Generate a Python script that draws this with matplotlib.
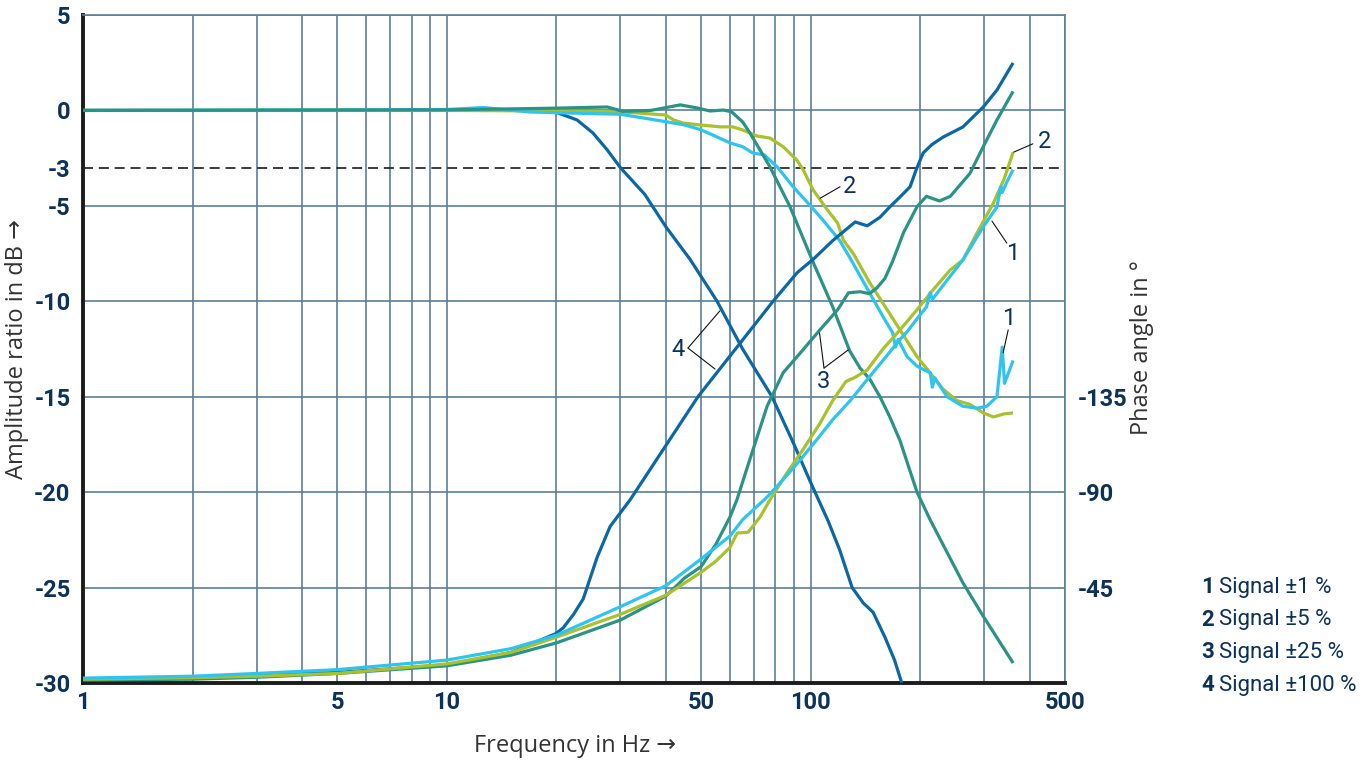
import matplotlib
matplotlib.use("Agg")
import matplotlib.pyplot as plt
from matplotlib.ticker import NullFormatter

# ---- measured frequency response, one set per signal level ----
# amplitude ratio in dB
f_amp_1 = [1, 5, 10, 12.6, 16.9, 20, 30, 40, 45, 49.7, 55.3, 60, 65, 69.3, 74.5, 80.9, 89.5,
           97.7, 108, 120, 128, 145.6, 158, 168, 171, 174, 184, 196, 213, 216, 219, 237, 262,
           287, 305, 325, 331, 336, 341, 360]
amp_1 = [0, 0.02, 0.05, 0.15, -0.08, -0.12, -0.2, -0.59, -0.76, -1.0, -1.39, -1.7, -1.9, -2.23,
         -2.33, -2.96, -4.0, -4.8, -5.74, -6.8, -7.7, -9.6, -10.8, -11.65, -12.4, -12.0, -12.9,
         -13.4, -13.75, -14.5, -14.0, -15.0, -15.5, -15.6, -15.5, -15.0, -13.6, -12.4, -14.3, -13.1]

f_amp_2 = [1, 10, 20, 30, 40, 42, 44.6, 49.7, 56.3, 61, 65, 71.2, 77.3, 84, 91.6, 95.3, 101.6,
           111, 118.6, 123, 131, 145, 158, 176, 196, 213, 231, 252, 274, 298, 318, 340, 360]
amp_2 = [0, 0, -0.03, -0.07, -0.24, -0.5, -0.66, -0.76, -0.86, -0.86, -1.02, -1.34, -1.45, -1.9,
         -2.6, -3.1, -4.17, -5.2, -5.9, -6.8, -7.5, -9.0, -10.1, -11.5, -12.9, -13.75, -14.6,
         -15.2, -15.4, -15.85, -16.06, -15.9, -15.85]

f_amp_3 = [1, 10, 15, 20, 27.6, 30.5, 36.3, 40.3, 43.8, 48.7, 52.9, 57.5, 60.6, 65, 68.1, 77.3,
           87.8, 100.9, 115, 128, 136.7, 145.6, 155, 165, 176, 196, 213, 262, 298, 360]
amp_3 = [0, 0.03, 0.08, 0.12, 0.18, -0.05, 0.0, 0.16, 0.29, 0.13, -0.03, 0.02, -0.07, -0.6, -1.18,
         -2.96, -5.06, -7.83, -10.3, -12.6, -13.5, -14.1, -15.0, -16.06, -17.3, -20.0, -21.45,
         -24.75, -26.5, -28.95]

f_amp_4 = [1, 5, 10, 15, 18, 20, 22.8, 25.2, 27.6, 30, 35, 40, 46.6, 55.3, 65, 78.3, 90, 100,
           111.6, 120, 130, 139.4, 148.5, 160, 170, 178]
amp_4 = [0, 0, 0.02, 0.05, 0.03, -0.1, -0.5, -1.18, -2.07, -3.0, -4.4, -6.1, -7.8, -10.0, -12.5,
         -15.0, -17.5, -19.5, -21.5, -23.0, -25.0, -25.8, -26.3, -27.6, -28.8, -30.0]

# phase angle in degrees
f_ph_1 = [1, 2, 3, 5, 10, 15, 20, 30, 40, 50, 60, 65, 76, 84, 93.7, 104, 115, 128.5, 143, 158,
          176, 184, 200, 208, 213, 216, 237, 262, 298, 325, 333, 336, 345, 360]
ph_1 = [-2.3, -3.2, -4.5, -6.3, -10.8, -16.2, -22.5, -36, -45.9, -58.5, -69.3, -77, -87.8, -95.9,
        -105.3, -114.8, -124.2, -133.2, -143.1, -152.1, -162, -165.6, -173.7, -177.3, -184,
        -180.9, -189.9, -199.5, -215.1, -224.5, -234, -231.3, -235.8, -242.1]

f_ph_2 = [1, 2, 3, 5, 10, 15, 20, 30, 40, 50, 55, 60, 62.8, 67.3, 72.6, 77.3, 86, 95, 106, 115,
          125, 132, 143, 158, 176, 196, 217, 242, 262, 287, 318, 340, 360]
ph_2 = [-1.8, -2.5, -3.2, -4.5, -9, -14.4, -21.6, -32.4, -41.4, -52.2, -57.6, -63.9, -70.7, -71.1,
        -78.3, -86.4, -99, -109.8, -122.4, -133.2, -142.2, -144, -147.6, -157.5, -166.5, -176,
        -185.4, -194.8, -199.5, -212.4, -226.4, -237.6, -250.2]

f_ph_3 = [1, 2, 3, 5, 10, 15, 20, 30, 40, 45, 50, 55, 60, 62.7, 68, 75.9, 84, 93.7, 106, 118.6,
          127, 136.7, 145, 152, 160, 168, 180, 196, 208, 226, 242, 274, 298, 325, 360]
ph_3 = [-1.4, -1.8, -2.7, -4.5, -8.1, -13.1, -18.9, -29.7, -41, -49.5, -54.9, -65.7, -78.3, -86.4,
        -105.3, -130.5, -146.3, -155.7, -166.5, -176, -184, -184.5, -183.6, -186.3, -190.8,
        -198.9, -212.4, -224.6, -229.5, -227.3, -229.5, -240.3, -252.9, -265.5, -279]

f_ph_4 = [1, 2, 3, 5, 10, 15, 20, 20.9, 22.3, 23.7, 25.9, 28.1, 31.9, 49, 78.8, 91.8, 101.6,
          115.3, 132.5, 143, 155, 165, 176, 187.6, 195, 203.7, 215, 231, 262, 298, 325, 360]
ph_4 = [-1.8, -2.7, -3.6, -5, -8.5, -14.4, -23.4, -26.1, -32.4, -39.6, -59.4, -73.8, -86.4, -135,
        -180, -193.5, -199.8, -208.8, -217.4, -215.6, -219.6, -224.5, -229.2, -234, -242.1,
        -249.9, -253.8, -257.4, -262.2, -271.6, -279.6, -292.4]

signal_labels = ["Signal \u00b11 %", "Signal \u00b15 %", "Signal \u00b125 %", "Signal \u00b1100 %"]
colors = ["#2fc3f0", "#a8c12c", "#2a9386", "#0b68a4"]

grid_color = "#5c8099"
navy = "#0d3259"
tick_font = ["Roboto", "DejaVu Sans"]
label_font = ["Open Sans", "DejaVu Sans"]

W, H = 1363, 761
fig = plt.figure(figsize=(W / 100, H / 100), dpi=100)
ax = fig.add_axes([83 / W, 1 - 683 / H, 982 / W, 668 / H])
ax2 = ax.twinx()

ax.set_xscale("log")
ax.set_xlim(1, 500)
ax.set_ylim(-30, 5)
ax2.set_ylim(0, -315)

# amplitude curves
amp_sets = [(f_amp_4, amp_4, 3), (f_amp_2, amp_2, 1), (f_amp_1, amp_1, 0), (f_amp_3, amp_3, 2)]
for f, v, i in amp_sets:
    ax.plot(f, v, color=colors[i], lw=2.3, solid_joinstyle="round", solid_capstyle="butt", zorder=3)

# phase curves
ph_sets = [(f_ph_4, ph_4, 3), (f_ph_3, ph_3, 2), (f_ph_2, ph_2, 1), (f_ph_1, ph_1, 0)]
for f, v, i in ph_sets:
    ax2.plot(f, v, color=colors[i], lw=2.3, solid_joinstyle="round", solid_capstyle="butt", zorder=3)

# -3 dB line
ax.axhline(-3, color="#1a1a1a", lw=1.2, ls=(0, (6, 3.5)), zorder=2)

# grid
ax.set_xticks([1, 5, 10, 50, 100, 500])
ax.set_xticklabels(["1", "5", "10", "50", "100", "500"])
ax.set_xticks([2, 3, 4, 6, 7, 8, 9, 20, 30, 40, 60, 70, 80, 90, 200, 300, 400], minor=True)
ax.xaxis.set_minor_formatter(NullFormatter())
ax.set_yticks([5, 0, -5, -10, -15, -20, -25, -30])
ax.set_yticklabels(["5", "0", "-5", "-10", "-15", "-20", "-25", "-30"])
ax.set_yticks([-3], minor=True)
ax.set_yticklabels(["-3"], minor=True)
ax.grid(True, which="both", axis="x", color=grid_color, lw=1.2, zorder=1)
ax.grid(True, which="major", axis="y", color=grid_color, lw=1.2, zorder=1)
ax.set_axisbelow(True)

ax2.set_yticks([-135, -90, -45])
ax2.set_yticklabels(["-135", "-90", "-45"])

for a in (ax, ax2):
    a.tick_params(which="both", length=0, labelcolor=navy)
    for lab in a.get_xticklabels() + a.get_yticklabels() + a.get_yticklabels(minor=True):
        lab.set_fontfamily(tick_font)
        lab.set_fontweight("bold")
        lab.set_fontsize(17)
ax.tick_params(axis="x", pad=6)
ax.tick_params(axis="y", which="both", pad=9)
ax2.tick_params(axis="y", pad=9)

for s in ("left", "bottom"):
    ax.spines[s].set_color("#1c1c1c")
    ax.spines[s].set_linewidth(2.8)
for s in ("top", "right"):
    ax.spines[s].set_color(grid_color)
    ax.spines[s].set_linewidth(1.2)
for s in ax2.spines.values():
    s.set_visible(False)

# axis titles
title_kw = dict(fontsize=17, color="#333333", family=label_font, ha="center", va="center")
fig.text(575 / W, 1 - 746 / H, "Frequency in Hz \u2192", **title_kw)
fig.text(17 / W, 1 - 349 / H, "Amplitude ratio in dB \u2192", rotation=90, **title_kw)
fig.text(1142 / W, 1 - 348 / H, "Phase angle in \u00b0", rotation=90, **title_kw)

# curve numbers with leader lines
lead = dict(arrowstyle="-", color="#111111", lw=0.8, shrinkA=0, shrinkB=0)
txt = dict(fontsize=17, color=navy, family=tick_font, ha="center", va="center", zorder=5)

ax.text(43.2, -12.55, "4", **txt)
ax.annotate("", xy=(56.3, -10.5), xytext=(46.0, -12.45), arrowprops=lead)
ax.annotate("", xy=(54.6, -13.55), xytext=(46.0, -12.45), arrowprops=lead)

ax.text(108.2, -14.2, "3", **txt)
ax.annotate("", xy=(105.5, -11.5), xytext=(108.8, -13.5), arrowprops=lead)
ax.annotate("", xy=(126.8, -12.55), xytext=(108.8, -13.5), arrowprops=lead)

ax.text(127.5, -4.0, "2", **txt)
ax.annotate("", xy=(106.2, -4.6), xytext=(120.4, -4.0), arrowprops=lead)

ax.text(438, -1.65, "2", **txt)
ax.annotate("", xy=(360, -2.2), xytext=(408, -1.75), arrowprops=lead)

ax.text(358, -7.5, "1", **txt)
ax.annotate("", xy=(315, -5.8), xytext=(346, -6.95), arrowprops=lead)

ax.text(349, -10.9, "1", **txt)
ax.annotate("", xy=(338, -12.7), xytext=(349, -11.5), arrowprops=lead)

# key on the right
for k, name in enumerate(signal_labels):
    y = 1 - (587 + 32.7 * k) / H
    fig.text(1201 / W, y, str(k + 1), fontsize=16, fontweight="bold", color=navy,
             family=tick_font, va="center", ha="left")
    fig.text(1219 / W, y, name, fontsize=16, color=navy, family=tick_font,
             va="center", ha="left")

fig.savefig("out.png", dpi=100)
